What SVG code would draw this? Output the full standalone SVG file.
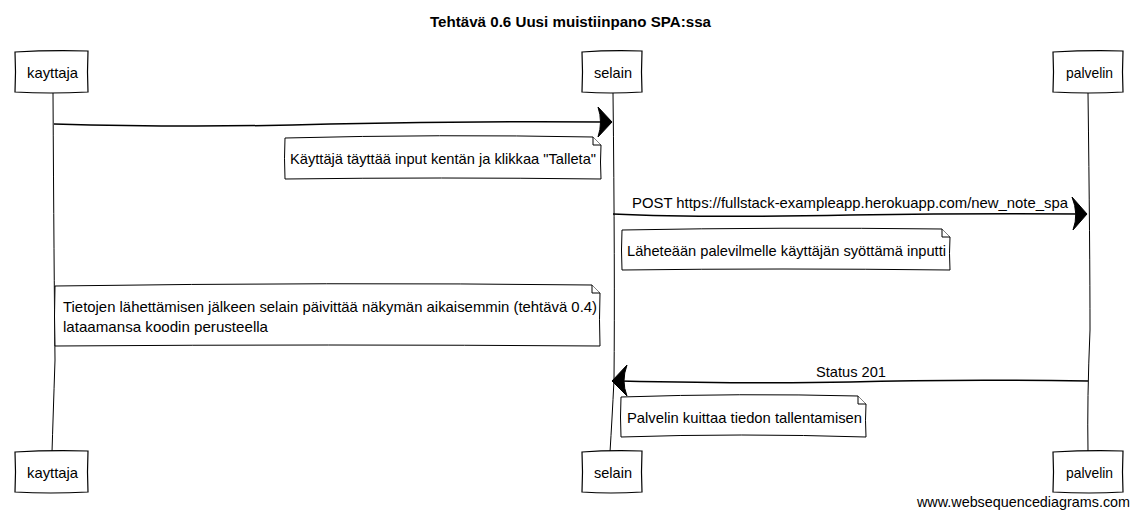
<svg xmlns="http://www.w3.org/2000/svg" width="1138" height="517" viewBox="0 0 1138 517">
<style>
text{font-family:"Liberation Sans",Arial,sans-serif;font-size:14.5px;fill:#000}
.t{font-weight:bold;font-size:14.5px}
.box{fill:#fff;stroke:#000;stroke-width:1.2}
.life{fill:none;stroke:#000;stroke-width:1}
.msg{fill:none;stroke:#000;stroke-width:1.5}
.head{fill:#000;stroke:#000;stroke-width:1}
.note{fill:#fff;stroke:#000;stroke-width:1}
</style>
<rect width="1138" height="517" fill="#fff"/>
<text class="t" x="430" y="27" textLength="281" lengthAdjust="spacingAndGlyphs">Tehtävä 0.6 Uusi muistiinpano SPA:ssa</text>
<g id="connectors">
<path class="life" d="M53 93 Q54 270 55 360 Q53 420 52 452"/>
<path class="life" d="M613 93 Q615 270 614 380 Q612 420 610 452"/>
<path class="life" d="M1088 93 Q1090 250 1090 330 Q1087 400 1088 452"/>
<path class="msg" d="M54 124 Q200 128 330 124 Q470 121 606 122"/>
<path class="head" d="M598 107 L612 122 L598 137 Q603 122 598 107 Z"/>
<text x="632" y="208" textLength="436" lengthAdjust="spacingAndGlyphs">POST https://fullstack-exampleapp.herokuapp.com/new_note_spa</text>
<path class="msg" d="M613 214 Q700 218 850 215 Q980 213 1082 214"/>
<path class="head" d="M1072 197 L1087 214 L1073 230 Q1079 214 1072 197 Z"/>
<text x="816" y="377" textLength="70" lengthAdjust="spacingAndGlyphs">Status 201</text>
<path class="msg" d="M1088 381 Q950 379 850 382 Q760 384 620 381"/>
<path class="head" d="M627 365 L612 381 L627 396 Q621 381 627 365 Z"/>
</g>
<g id="kayttaja-top">
<path class="box" d="M15 52 Q50 50 88 51 Q87 72 88 92 Q50 94 15 92 Q16 72 15 52 Z"/>
<text x="27" y="78" textLength="51" lengthAdjust="spacingAndGlyphs">kayttaja</text>
</g>
<g id="selain-top">
<path class="box" d="M582 52 Q610 50 642 51 Q641 72 642 92 Q610 94 582 92 Q583 72 582 52 Z"/>
<text x="594" y="78" textLength="38" lengthAdjust="spacingAndGlyphs">selain</text>
</g>
<g id="palvelin-top">
<path class="box" d="M1053 52 Q1090 50 1123 51 Q1122 72 1123 92 Q1090 94 1053 92 Q1054 72 1053 52 Z"/>
<text x="1066" y="78" textLength="47" lengthAdjust="spacingAndGlyphs">palvelin</text>
</g>
<g id="note1">
<path class="note" d="M285 138 Q440 134 593 137 L601 145 Q600 162 601 179 Q440 177 285 179 Q284 158 285 138 Z"/>
<path class="note" d="M593 137 L593 145 L601 145"/>
<text x="290" y="164" textLength="306" lengthAdjust="spacingAndGlyphs">Käyttäjä täyttää input kentän ja klikkaa "Talleta"</text>
</g>
<g id="note2">
<path class="note" d="M622 230 Q780 227 942 229 L950 237 Q949 253 950 270 Q780 268 622 270 Q621 250 622 230 Z"/>
<path class="note" d="M942 229 L942 237 L950 237"/>
<text x="627" y="256" textLength="319" lengthAdjust="spacingAndGlyphs">Läheteään palevilmelle käyttäjän syöttämä inputti</text>
</g>
<g id="note3">
<path class="note" d="M55 286 Q330 282 592 285 L600 293 Q599 320 600 346 Q330 344 55 346 Q54 316 55 286 Z"/>
<path class="note" d="M592 285 L592 293 L600 293"/>
<text x="63" y="312" textLength="534" lengthAdjust="spacingAndGlyphs">Tietojen lähettämisen jälkeen selain päivittää näkymän aikaisemmin (tehtävä 0.4)</text>
<text x="63" y="332" textLength="205" lengthAdjust="spacingAndGlyphs">lataamansa koodin perusteella</text>
</g>
<g id="note4">
<path class="note" d="M621 397 Q740 393 858 396 L866 404 Q865 420 866 437 Q740 433 621 437 Q620 417 621 397 Z"/>
<path class="note" d="M858 396 L858 404 L866 404"/>
<text x="627" y="423" textLength="235" lengthAdjust="spacingAndGlyphs">Palvelin kuittaa tiedon tallentamisen</text>
</g>
<g id="kayttaja-bottom">
<path class="box" d="M15 452 Q50 450 88 451 Q87 472 88 492 Q50 494 15 492 Q16 472 15 452 Z"/>
<text x="27" y="478" textLength="51" lengthAdjust="spacingAndGlyphs">kayttaja</text>
</g>
<g id="selain-bottom">
<path class="box" d="M582 452 Q610 450 642 451 Q641 472 642 492 Q610 494 582 492 Q583 472 582 452 Z"/>
<text x="594" y="478" textLength="38" lengthAdjust="spacingAndGlyphs">selain</text>
</g>
<g id="palvelin-bottom">
<path class="box" d="M1053 452 Q1090 450 1123 451 Q1122 472 1123 492 Q1090 494 1053 492 Q1054 472 1053 452 Z"/>
<text x="1066" y="478" textLength="47" lengthAdjust="spacingAndGlyphs">palvelin</text>
</g>
<text x="917" y="507" textLength="213" lengthAdjust="spacingAndGlyphs">www.websequencediagrams.com</text>
</svg>
